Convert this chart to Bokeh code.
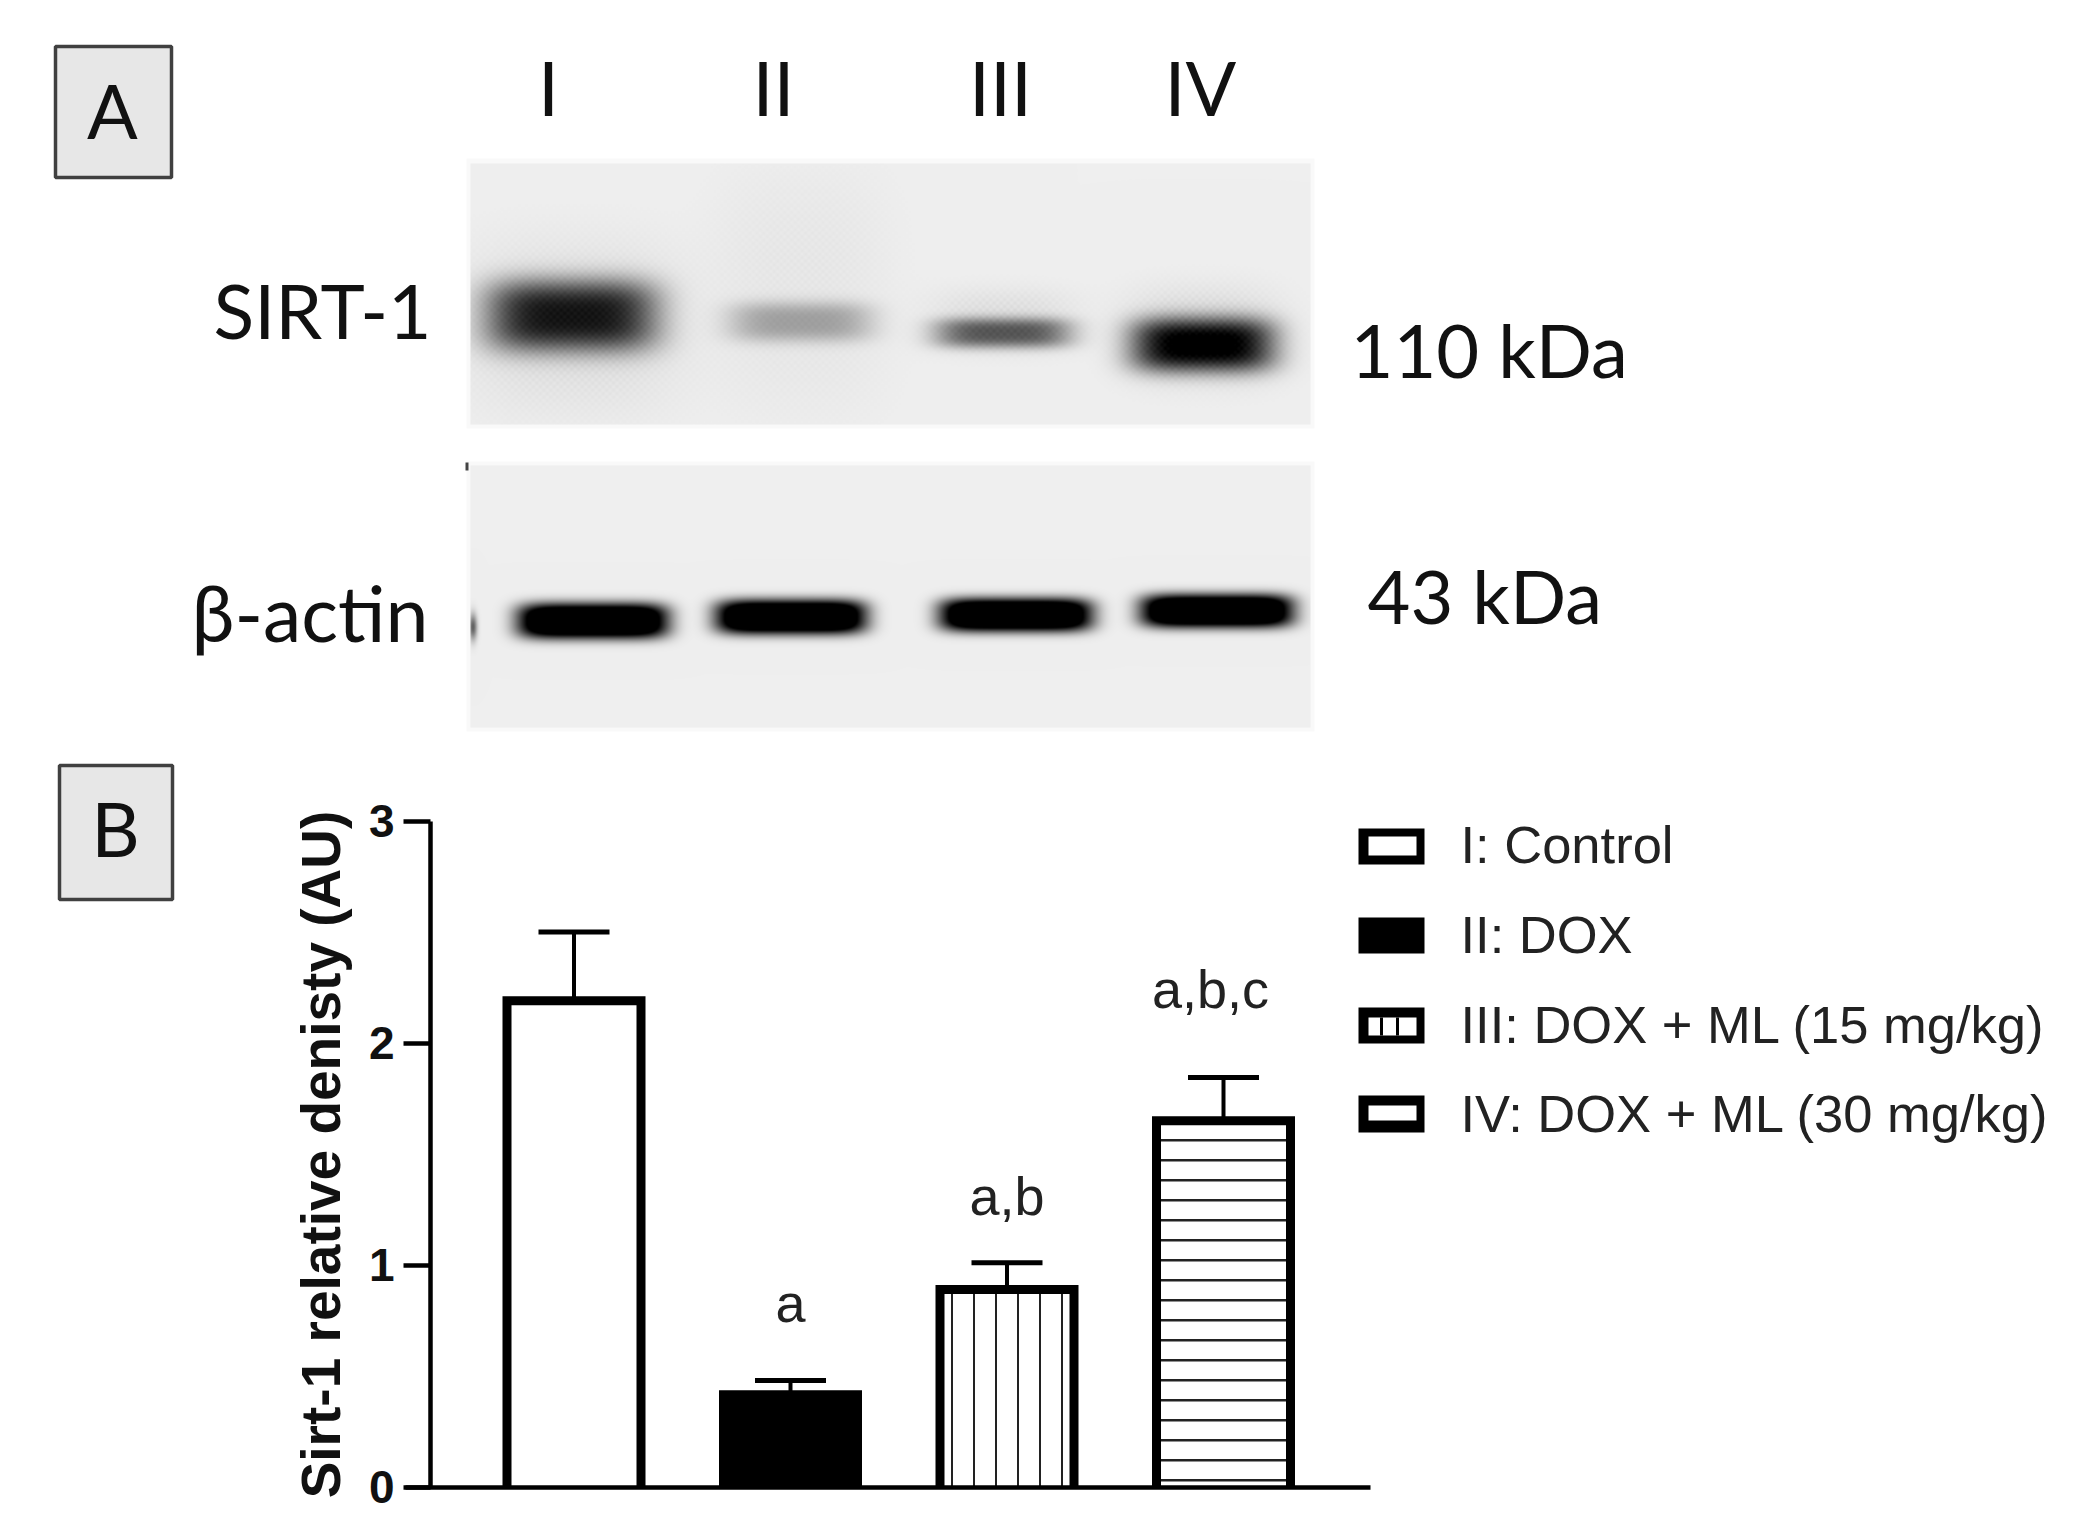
import numpy as np
from bokeh.plotting import figure
from bokeh.models import Range1d, LinearAxis, FixedTicker, ColumnDataSource
from bokeh.core.properties import value
from bokeh.embed import file_html
from bokeh.resources import INLINE

# ---- data -------------------------------------------------------------
groups = ["I", "II", "III", "IV"]
density = [2.19, 0.415, 0.89, 1.65]
sem = [0.31, 0.065, 0.12, 0.195]
fills = ["white", "black", "white", "white"]
letters = ["", "a", "a,b", "a,b,c"]
y_ticks = [0, 1, 2, 3]
legend_labels = ["I: Control", "II: DOX", "III: DOX + ML (15 mg/kg)", "IV: DOX + ML (30 mg/kg)"]
y_title = "Sirt-1 relative denisty (AU)"
sirt_peak = [0.85, 0.30, 0.58, 0.97]
actin_peak = [1.6, 1.6, 1.6, 1.6]

# ---- geometry: default ranges are the picture's pixels -----------------
L, R, T, B = 0, 2070, 0, 1519
Y0, PX_Y = 1486.5, 222.0      # value 0 and pixels per unit
X1, PX_X = 573.5, 216.5       # group 1 centre and pixels per group

p = figure(width=R - L, height=B - T, output_backend="svg", toolbar_location=None,
           x_range=Range1d(L, R), y_range=Range1d(B, T),
           x_axis_type=None, y_axis_type=None, min_border=0,
           outline_line_color=None, background_fill_color="white")
p.grid.visible = False
p.extra_x_ranges["bar"] = Range1d(1 + (L - X1) / PX_X, 1 + (R - X1) / PX_X)
p.extra_y_ranges["bar"] = Range1d((Y0 - B) / PX_Y, (Y0 - T) / PX_Y)


# ---- western blots ------------------------------------------------------
def panel(x0, x1, y0, y1, bands, halos, specks=(), px=4):
    xs, ys = np.meshgrid(np.arange(x0, x1), np.arange(y0, y1))
    dark = np.zeros(xs.shape)
    dots = 0.72 + 0.28 * np.sin(xs * 0.9) * np.sin(ys * 0.9)
    for cx, cy, hw, hh, a in halos:
        dark += a * dots * np.exp(-(np.abs(xs - cx) / hw) ** 3 - (np.abs(ys - cy) / hh) ** 3)
    for cx, cy, hw, hh, a in bands:
        dark += a * np.exp(-(np.abs(xs - cx) / hw) ** px - (np.abs(ys - cy) / hh) ** 3)
    for cx, cy, hw, hh, a in specks:
        dark += a * np.exp(-((xs - cx) / hw) ** 2 - ((ys - cy) / hh) ** 2)
    g = (239 * (1 - np.clip(dark, 0, 1))).astype(np.uint32)
    return (255 << 24) | (g << 16) | (g << 8) | g


top_geom = [(571, 315, 86, 36), (800, 321, 72, 20), (1002, 332, 68, 15), (1202, 344, 72, 27)]
top_halo = [(572, 325, 108, 85, 0.09), (800, 292, 86, 118, 0.045), (1002, 320, 72, 32, 0.09), (1202, 335, 76, 48, 0.12)]
bot_geom = [(592, 620, 75, 17.5), (790, 616, 75, 17), (1015, 614, 76, 16.5), (1216, 610, 76, 16.5)]

p.quad(left=[466, 466], right=[1314, 1314], top=[158, 461], bottom=[428, 731], fill_color="#f9f9f9", line_color=None)
for (y0, y1, geom, peaks, halos, specks, px) in [
    (163, 424, top_geom, sirt_peak, top_halo, (), 4),
    (465, 727, bot_geom, actin_peak, (), ((472, 626, 4, 13, 0.6),), 6),
]:
    bands = [(*g, a) for g, a in zip(geom, peaks)]
    img = panel(470, 1310, y0, y1, bands, halos, specks, px)
    p.image_rgba(image=[img], x=[470], y=[y0], dw=[840], dh=[y1 - y0])
p.quad(left=[465], right=[468], top=[462], bottom=[470], fill_color="#444444", line_color=None)

# ---- bars ---------------------------------------------------------------
xpos = [i + 1 for i in range(len(groups))]
src = ColumnDataSource(dict(x=xpos, top=density, fill=fills,
                            hi=[d + s for d, s in zip(density, sem)]))
BW = 134 / PX_X
CAP = 71 / PX_X
kw = dict(x_range_name="bar", y_range_name="bar")
p.segment(x0="x", x1="x", y0="top", y1="hi", source=src, line_color="black", line_width=4, **kw)
p.segment(x0=[x - CAP / 2 for x in xpos], x1=[x + CAP / 2 for x in xpos],
          y0=src.data["hi"], y1=src.data["hi"], line_color="black", line_width=5, **kw)
p.vbar(x="x", top="top", bottom=0, width=BW, source=src, fill_color="fill", line_color=None, **kw)
# hatching of groups III and IV
vx = np.arange(3 - 2.5 * 22 / PX_X, 3 + 2.6 * 22 / PX_X, 22 / PX_X)
p.segment(x0=vx, x1=vx, y0=0, y1=density[2], line_color="#222222", line_width=2, **kw)
hy = np.arange(0.03, density[3] - 0.03, 20 / PX_Y)
p.segment(x0=4 - BW / 2, x1=4 + BW / 2, y0=hy, y1=hy, line_color="#222222", line_width=2.5, **kw)
# bar outlines: open at the foot, which stands on the axis
p.multi_line(xs=[[x - BW / 2, x - BW / 2, x + BW / 2, x + BW / 2] for x in xpos],
             ys=[[0, d, d, 0] for d in density], line_color="black", line_width=9,
             line_join="miter", **kw)

# ---- axes ---------------------------------------------------------------
yax = LinearAxis(y_range_name="bar", fixed_location=430, bounds=(0, 3),
                 ticker=FixedTicker(ticks=y_ticks), axis_label=y_title)
yax.axis_line_width = 4.5
yax.major_tick_line_width = 4.5
yax.major_tick_in = 0
yax.major_tick_out = 27
yax.minor_tick_line_color = None
yax.major_label_standoff = 9
yax.major_label_text_font = "Liberation Sans"
yax.major_label_text_font_style = "bold"
yax.major_label_text_font_size = "46px"
yax.major_label_text_color = "#111111"
yax.axis_label_text_font = "Liberation Sans"
yax.axis_label_text_font_style = "bold"
yax.axis_label_text_font_size = "55px"
yax.axis_label_text_color = "#111111"
yax.axis_label_standoff = 14
p.add_layout(yax, "left")

xax = LinearAxis(x_range_name="bar", y_range_name="bar", fixed_location=0,
                 bounds=(1 + (405 - X1) / PX_X, 1 + (1370 - X1) / PX_X),
                 ticker=FixedTicker(ticks=[]))
xax.axis_line_width = 4.5
xax.major_tick_line_color = None
xax.minor_tick_line_color = None
xax.major_label_text_font_size = "0px"
p.add_layout(xax, "below")

# letters over the bars
p.text(x=[x + dx / PX_X for x, dx in zip(xpos, [0, 0, 0, -13])],
       y=[d + s + o for d, s, o in zip(density, sem, [0, 0.35, 0.30, 0.40])], text=letters,
       text_align="center", text_baseline="alphabetic", text_font=value("Liberation Sans"),
       text_font_size="54px", text_color="#222222", **kw)


# ---- legend ---------------------------------------------------------------
sw_y = [(828, 864), (917, 953), (1007, 1043), (1095, 1132)]
sw_fill = [(1368, 1416, 836, 855), None, (1368, 1416, 1017, 1035), (1368, 1416, 1105, 1120)]
p.quad(left=1358, right=1424, top=[a for a, b in sw_y], bottom=[b for a, b in sw_y], fill_color="black", line_color=None)
inner = [f for f in sw_fill if f]
p.quad(left=[f[0] for f in inner], right=[f[1] for f in inner], top=[f[2] for f in inner],
       bottom=[f[3] for f in inner], fill_color="white", line_color=None)
p.segment(x0=[1381, 1397], x1=[1381, 1397], y0=1017, y1=1035, line_color="black", line_width=3)
p.text(x=1460, y=[844, 934, 1024, 1113], text=legend_labels, text_font=value("Liberation Sans"),
       text_font_size="52.5px", text_baseline="alphabetic", text_color="#222222")


# ---- panel text -----------------------------------------------------------
def txt(x, y, s, size, align="left"):
    p.text(x=[x], y=[y - 30], text=[s], text_font=value("Lato"), text_font_size=size, text_align=align,
           text_baseline="alphabetic", text_color="#111111")


p.quad(left=[55, 59], right=[171, 172], top=[46, 765], bottom=[177, 899], fill_color="#e7e7e7",
       line_color="#404040", line_width=3.5)
txt(112, 139, "A", "75px", "center")
txt(115, 857, "B", "75px", "center")
for name, cx in zip(groups, [548, 773, 1000, 1200]):
    txt(cx, 116, name, "75px", "center")
txt(431, 339, "SIRT-1", "75px", "right")
txt(428, 641, "β-actin", "77px", "right")
txt(1350, 379, "110 kDa", "74px")
txt(1367, 625, "43 kDa", "74px")

open("out.html", "w").write(file_html(p, INLINE))
